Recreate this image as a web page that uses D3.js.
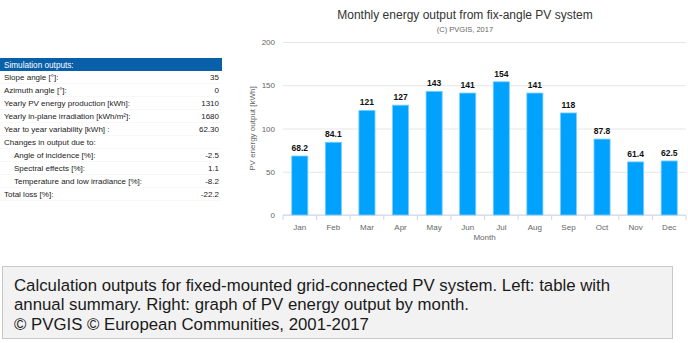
<!DOCTYPE html>
<html>
<head>
<meta charset="utf-8">
<script src="https://cdn.jsdelivr.net/npm/d3@7"></script>
<style>
  html, body { margin: 0; padding: 0; background: #fff; }
  svg { display: block; font-family: "Liberation Sans", Arial, sans-serif; }
</style>
</head>
<body>
<script>
const width = 688
const height = 343

// chart data
const months = ['Jan', 'Feb', 'Mar', 'Apr', 'May', 'Jun', 'Jul', 'Aug', 'Sep', 'Oct', 'Nov', 'Dec']
const energy = [68.2, 84.1, 121, 127, 143, 141, 154, 141, 118, 87.8, 61.4, 62.5]
const energyLabels = ['68.2', '84.1', '121', '127', '143', '141', '154', '141', '118', '87.8', '61.4', '62.5']
const yTicks = [0, 50, 100, 150, 200]

// table data
const rowNames = ['Slope angle [°]:', 'Azimuth angle [°]:', 'Yearly PV energy production [kWh]:',
  'Yearly in-plane irradiation [kWh/m²]:', 'Year to year variability [kWh] :', 'Changes in output due to:',
  'Angle of incidence [%]:', 'Spectral effects [%]:', 'Temperature and low irradiance [%]:', 'Total loss [%]:']
const rowValues = ['35', '0', '1310', '1680', '62.30', '', '-2.5', '1.1', '-8.2', '-22.2']
const rowIndent = [0, 0, 0, 0, 0, 0, 1, 1, 1, 0]

const captionLines = [
  'Calculation outputs for fixed-mounted grid-connected PV system. Left: table with',
  'annual summary. Right: graph of PV energy output by month.',
  '© PVGIS © European Communities, 2001-2017'
]

const svg = d3.select('body').append('svg')
  .attr('width', width)
  .attr('height', height)

// ---- table on the left
const table = svg.append('g')
table.append('rect')
  .attr('x', 0).attr('y', 58).attr('width', 222).attr('height', 13)
  .attr('fill', '#0a5fa9')
table.append('text')
  .attr('x', 4).attr('y', 67.5)
  .attr('fill', '#fff').style('font-size', '8.2px')
  .text('Simulation outputs:')

const rowY = d3.scaleLinear().domain([0, 1]).range([77, 90])
rowNames.forEach(function (name, i) {
  const y = rowY(i)
  table.append('line')
    .attr('x1', 0).attr('x2', 222)
    .attr('y1', y + 6.5).attr('y2', y + 6.5)
    .attr('stroke', '#f8f8f8')
  table.append('text')
    .attr('x', rowIndent[i] ? 14 : 4).attr('y', y + 3)
    .attr('fill', '#222').style('font-size', '8px')
    .text(name)
  table.append('text')
    .attr('x', 219).attr('y', y + 3)
    .attr('text-anchor', 'end')
    .attr('fill', '#222').style('font-size', '8px')
    .text(rowValues[i])
})

// ---- bar chart on the right
const x = d3.scaleBand()
  .domain(months)
  .range([283, 686])
  .paddingInner(0.52)
  .paddingOuter(0.26)

const y = d3.scaleLinear()
  .domain([0, 200])
  .range([215, 42])

const chart = svg.append('g')

chart.append('text')
  .attr('x', 465).attr('y', 19)
  .attr('text-anchor', 'middle')
  .attr('fill', '#333').style('font-size', '12px')
  .text('Monthly energy output from fix-angle PV system')
chart.append('text')
  .attr('x', 465).attr('y', 32)
  .attr('text-anchor', 'middle')
  .attr('fill', '#666').style('font-size', '7.5px')
  .text('(C) PVGIS, 2017')

const yAxis = chart.append('g')
  .attr('transform', 'translate(283,0)')
  .call(d3.axisLeft(y).tickValues(yTicks).tickSize(-403).tickPadding(8))
yAxis.select('.domain').remove()
yAxis.selectAll('.tick line').attr('stroke', '#e6e6e6')
yAxis.selectAll('.tick text').attr('fill', '#666').style('font-size', '8px')
  .attr('font-family', null)

const xAxis = chart.append('g')
  .attr('transform', 'translate(0,215)')
  .call(d3.axisBottom(x).tickSize(0).tickPadding(9))
xAxis.select('.domain').attr('stroke', '#ccd6eb').attr('d', 'M283,0H686')
xAxis.selectAll('.tick text').attr('fill', '#666').style('font-size', '8px')
  .attr('font-family', null)

// band boundary ticks
chart.selectAll('.bound')
  .data(months)
  .enter().append('line')
  .attr('class', 'bound')
  .attr('x1', function (d) { return x(d) - x.step() * x.paddingInner() / 2 })
  .attr('x2', function (d) { return x(d) - x.step() * x.paddingInner() / 2 })
  .attr('y1', 215).attr('y2', 220)
  .attr('stroke', '#ccd6eb')
chart.append('line')
  .attr('x1', 686).attr('x2', 686).attr('y1', 215).attr('y2', 220)
  .attr('stroke', '#ccd6eb')

chart.append('text')
  .attr('x', 484.5).attr('y', 240)
  .attr('text-anchor', 'middle')
  .attr('fill', '#666').style('font-size', '8px')
  .text('Month')
chart.append('text')
  .attr('transform', 'translate(255,128.5) rotate(-90)')
  .attr('text-anchor', 'middle')
  .attr('fill', '#666').style('font-size', '8px')
  .text('PV energy output [kWh]')

chart.selectAll('.bar')
  .data(energy)
  .enter().append('rect')
  .attr('class', 'bar')
  .attr('x', function (d, i) { return x(months[i]) })
  .attr('y', function (d) { return y(d) })
  .attr('width', x.bandwidth())
  .attr('height', function (d) { return y(0) - y(d) })
  .attr('fill', '#00a2fe')
  .attr('stroke', '#7fcfff')
  .attr('stroke-width', 0.8)

chart.selectAll('.lbl')
  .data(energy)
  .enter().append('text')
  .attr('class', 'lbl')
  .attr('x', function (d, i) { return x(months[i]) + x.bandwidth() / 2 })
  .attr('y', function (d) { return y(d) - 5 })
  .attr('text-anchor', 'middle')
  .attr('fill', '#111').style('font-size', '8.5px').style('font-weight', 'bold')
  .text(function (d, i) { return energyLabels[i] })

// ---- caption box
svg.append('rect')
  .attr('x', 2.5).attr('y', 266.5).attr('width', 670).attr('height', 72)
  .attr('fill', '#f2f2f2').attr('stroke', '#c8c8c8')
captionLines.forEach(function (line, i) {
  svg.append('text')
    .attr('x', 14).attr('y', 290.5 + i * 19.5)
    .attr('fill', '#1a1a1a').style('font-size', '16.8px')
    .text(line)
})
</script>
</body>
</html>
